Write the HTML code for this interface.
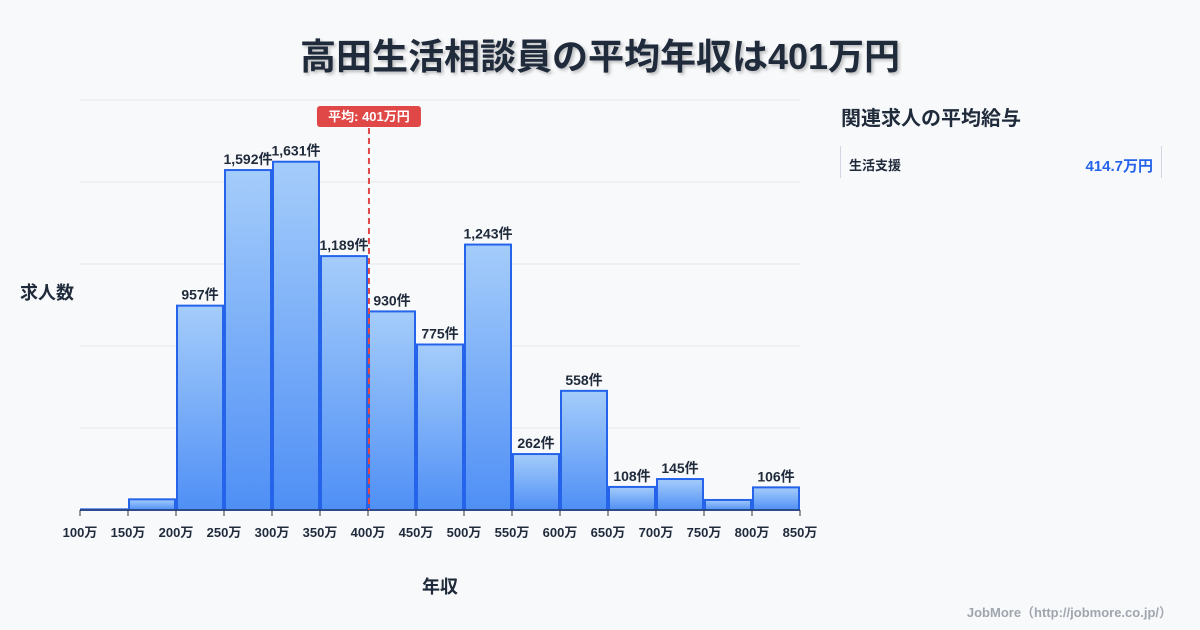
<!DOCTYPE html>
<html><head><meta charset="utf-8">
<style>
body{margin:0;background:#f8f9fb;font-family:"Liberation Sans","Noto Sans CJK JP",sans-serif;}
#wrap{position:relative;width:1200px;height:630px;overflow:hidden;background:#f8f9fb;}
.title{position:absolute;left:0;width:1200px;top:28px;text-align:center;font-size:36px;font-weight:bold;color:#1f2a3a;text-shadow:2px 2px 3px rgba(0,0,0,0.25);}
.ptitle{position:absolute;left:841px;top:102px;font-size:20px;font-weight:bold;color:#1f2a3a;}
.card{position:absolute;left:840px;top:146px;width:320px;height:32px;border-left:1px solid #cfd6e0;border-right:1px solid #cfd6e0;}
.card .n{position:absolute;left:8px;top:9px;font-size:13px;font-weight:bold;color:#1f2a3a;}
.card .v{position:absolute;right:8px;top:9px;font-size:15px;font-weight:bold;color:#2563eb;}
.foot{position:absolute;right:28px;top:602px;font-size:13px;font-weight:bold;color:#a0a6ae;}
</style></head><body>
<div id="wrap">
<div class="title">高田生活相談員の平均年収は401万円</div>
<svg id="chart" width="1200" height="630" style="position:absolute;left:0;top:0"></svg>
<div class="ptitle">関連求人の平均給与</div>
<div class="card"><span class="n">生活支援</span><span class="v">414.7万円</span></div>
<div class="foot">JobMore（http://jobmore.co.jp/）</div>
</div>
<script>
const binStarts=[100,150,200,250,300,350,400,450,500,550,600,650,700,750,800];
const counts=[3,50,957,1592,1631,1189,930,775,1243,262,558,108,145,47,106];
const showLabel=[false,false,true,true,true,true,true,true,true,true,true,true,true,false,true];
const tickValues=[100,150,200,250,300,350,400,450,500,550,600,650,700,750,800,850];
const yMax=1920, yStep=384;
const meanValue=401;
const NS="http://www.w3.org/2000/svg";
const svg=document.getElementById('chart');
const X0=80,X1=800,Y0=510,Y1=100;
const x=v=>X0+(v-100)/(850-100)*(X1-X0);
const y=v=>Y0-v/yMax*(Y0-Y1);
function mk(t,a){const e=document.createElementNS(NS,t);for(const k in a)e.setAttribute(k,a[k]);svg.appendChild(e);return e;}
const defs=mk('defs',{});
defs.innerHTML='<linearGradient id="g" x1="0" y1="0" x2="0" y2="1"><stop offset="0" stop-color="#a5cdfb"/><stop offset="1" stop-color="#4f8ff5"/></linearGradient>';
for(let v=yStep;v<=yMax;v+=yStep){
 const l=mk('line',{x1:X0,x2:X1,y1:y(v),y2:y(v),stroke:'#e3e6ea','stroke-width':1});
 
 
}
binStarts.forEach((b,i)=>{
 const x0=x(b)+1,x1=x(b+50)-1,yt=y(counts[i]);
 const r=mk('rect',{x:x0,y:yt,width:x1-x0,height:Y0-yt,fill:'url(#g)',stroke:'#2563eb','stroke-width':2});
 
 
 if(showLabel[i]){
  const t=mk('text',{x:(x0+x1)/2,y:yt-6,'text-anchor':'middle','font-size':14,'font-weight':'bold',fill:'#1f2a3a'});
  t.textContent=counts[i].toLocaleString('en-US')+'件';
  
  
 }
});
const ax=mk('line',{x1:X0,x2:X1,y1:Y0,y2:Y0,stroke:'#333','stroke-width':1});


tickValues.forEach(v=>{
 const tk=mk('line',{x1:x(v),x2:x(v),y1:Y0,y2:Y0+6,stroke:'#333','stroke-width':1});
 
 
 const t=mk('text',{x:x(v),y:Y0+27,'text-anchor':'middle','font-size':13,'font-weight':'bold',fill:'#1f2a3a'});
 t.textContent=v+'万';
 
 
});
const mx=x(meanValue);
const ml=mk('line',{x1:mx,x2:mx,y1:128,y2:Y0,stroke:'#e04848','stroke-width':2,'stroke-dasharray':'6,4'});


const mb=mk('rect',{x:mx-52,y:106,width:104,height:21,rx:3,fill:'#e04848'});


const mt=mk('text',{x:mx,y:121,'text-anchor':'middle','font-size':13,'font-weight':'bold',fill:'#fff'});
mt.textContent='平均: '+meanValue+'万円';


const yt=mk('text',{x:20,y:299,'font-size':18,'font-weight':'bold',fill:'#1f2a3a'});
yt.textContent='求人数';


const xt=mk('text',{x:440,y:593,'text-anchor':'middle','font-size':18,'font-weight':'bold',fill:'#1f2a3a'});
xt.textContent='年収';


</script>
</body></html>
